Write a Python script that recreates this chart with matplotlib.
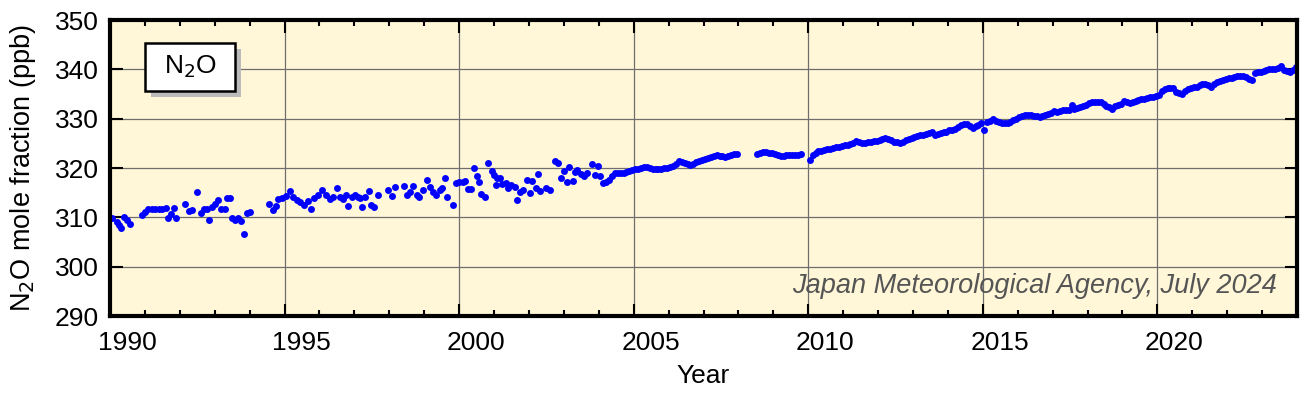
import matplotlib
matplotlib.use('Agg')
import matplotlib.pyplot as plt
import matplotlib.transforms as mtransforms
from matplotlib.patches import Rectangle
import numpy as np

# Flask samples 1990-2004 (decimal year, ppb)
t_early = [1990.07, 1990.19, 1990.26, 1990.31, 1990.41, 1990.48, 1990.57, 1990.91,
           1991.00, 1991.10, 1991.20, 1991.30, 1991.40, 1991.50, 1991.59, 1991.67,
           1991.76, 1991.82, 1991.90, 1992.16, 1992.26, 1992.35, 1992.50, 1992.60,
           1992.68, 1992.77, 1992.83, 1992.91, 1993.00, 1993.10, 1993.19, 1993.29,
           1993.35, 1993.44, 1993.49, 1993.58, 1993.68, 1993.75, 1993.83, 1993.92,
           1994.00, 1994.56, 1994.67, 1994.74, 1994.81, 1994.93, 1995.05, 1995.16,
           1995.25, 1995.35, 1995.44, 1995.56, 1995.66, 1995.76, 1995.83, 1995.97,
           1996.08, 1996.20, 1996.30, 1996.40, 1996.49, 1996.58, 1996.68, 1996.75,
           1996.83, 1996.92, 1997.01, 1997.10, 1997.17, 1997.23, 1997.30, 1997.42,
           1997.48, 1997.56, 1997.67, 1997.97, 1998.07, 1998.16, 1998.42, 1998.52,
           1998.60, 1998.69, 1998.78, 1998.86, 1998.97, 1999.08, 1999.16, 1999.25,
           1999.33, 1999.44, 1999.52, 1999.59, 1999.66, 1999.83, 1999.91, 2000.00,
           2000.10, 2000.18, 2000.24, 2000.35, 2000.42, 2000.50, 2000.58, 2000.64,
           2000.74, 2000.84, 2000.93, 2000.99, 2001.07, 2001.09, 2001.17, 2001.24,
           2001.34, 2001.40, 2001.50, 2001.60, 2001.67, 2001.74, 2001.84, 2001.93,
           2002.03, 2002.10, 2002.20, 2002.26, 2002.33, 2002.50, 2002.60, 2002.75,
           2002.84, 2002.91, 2002.99, 2003.08, 2003.15, 2003.25, 2003.31, 2003.39,
           2003.48, 2003.58, 2003.65, 2003.80, 2003.90, 2003.97, 2004.04]
v_early = [309.8, 309.1, 308.4, 307.8, 310.1, 309.5, 308.6, 310.5,
           311.1, 311.7, 311.8, 311.6, 311.8, 311.8, 312.0, 309.8,
           310.6, 312.0, 309.8, 312.8, 311.3, 311.4, 315.2, 310.8,
           311.8, 311.6, 309.5, 312.2, 312.8, 313.5, 311.8, 311.6,
           314.0, 314.0, 309.9, 309.5, 309.8, 309.3, 306.6, 310.9,
           311.1, 312.8, 311.4, 312.3, 313.7, 314.0, 314.4, 315.3,
           314.2, 313.5, 313.2, 312.6, 313.4, 311.6, 313.9, 314.6,
           315.5, 314.5, 313.8, 314.2, 316.0, 314.2, 313.8, 314.5,
           312.4, 314.2, 314.6, 314.2, 314.0, 312.1, 314.2, 315.3,
           312.5, 312.2, 314.5, 315.5, 314.3, 316.2, 316.4, 314.6,
           315.2, 316.4, 314.6, 314.2, 315.5, 317.6, 316.2, 315.2,
           314.6, 315.5, 316.0, 317.9, 314.2, 312.6, 316.9, 317.1,
           317.2, 317.4, 315.8, 315.8, 320.1, 318.3, 317.2, 314.7,
           314.2, 321.0, 319.4, 318.6, 316.6, 317.9, 317.9, 316.7,
           316.9, 315.9, 316.6, 316.1, 313.5, 315.2, 315.5, 317.6,
           315.0, 317.4, 315.9, 318.8, 315.4, 316.0, 315.5, 321.4,
           321.0, 318.0, 319.4, 317.1, 320.2, 317.4, 319.2, 319.6,
           318.7, 318.3, 318.9, 320.8, 318.6, 320.5, 318.3]

# Continuous monthly record, Feb 2004 - Dec 2007
start_a = (2004, 2)
v_a = [316.9, 317.1, 317.6, 318.4, 318.9, 319.1, 319.0, 319.1, 319.3, 319.4, 319.6,
       319.8, 319.9, 320.0, 320.2, 320.2, 320.1, 319.9, 319.9, 319.8, 319.9, 320.0, 320.1,
       320.2, 320.4, 320.8, 321.4, 321.2, 321.0, 320.9, 320.7, 320.9, 321.2, 321.5, 321.7,
       321.8, 322.0, 322.3, 322.5, 322.6, 322.4, 322.4, 322.3, 322.5, 322.7, 322.9, 322.9]

# Jul 2008 - Oct 2009
start_b = (2008, 7)
v_b = [322.8, 323.1, 323.3, 323.3, 323.1, 323.0,
       322.8, 322.6, 322.4, 322.5, 322.7, 322.6, 322.6, 322.7, 322.7, 322.8]

# Jan 2010 - Dec 2023
start_c = (2010, 1)
v_c = [321.7, 322.6, 323.0, 323.4, 323.5, 323.6, 323.8, 323.8, 324.0, 324.2, 324.3, 324.4,
       324.6, 324.7, 324.9, 325.1, 325.5, 325.2, 325.1, 325.1, 325.2, 325.3, 325.4, 325.5,
       325.7, 325.8, 326.0, 325.8, 325.6, 325.3, 325.2, 325.1, 325.3, 325.6, 325.9, 326.1,
       326.4, 326.5, 326.7, 326.8, 326.9, 327.1, 327.4, 326.8, 326.9, 327.1, 327.3, 327.4,
       327.7, 327.8, 327.9, 328.4, 328.7, 328.9, 328.9, 328.6, 328.2, 328.6, 328.8, 329.2,
       327.7, 329.4, 329.6, 329.9, 329.5, 329.3, 329.1, 329.1, 329.1, 329.4, 329.7, 330.0,
       330.3, 330.5, 330.7, 330.7, 330.7, 330.6, 330.5, 330.4, 330.6, 330.7, 331.0, 331.2,
       331.5, 331.4, 331.5, 331.7, 331.8, 331.8, 332.7, 332.0, 332.2, 332.4, 332.6, 332.8,
       333.2, 333.3, 333.5, 333.4, 333.3, 332.9, 332.6, 332.4, 332.0, 332.5, 332.7, 333.0,
       333.7, 333.4, 333.2, 333.5, 333.7, 333.9, 334.0, 334.1, 334.3, 334.4, 334.5, 334.7,
       334.8, 335.6, 336.0, 336.3, 336.3, 336.2, 335.5, 335.2, 335.1, 335.6, 336.1, 336.3,
       336.4, 336.5, 336.9, 337.1, 337.0, 336.8, 336.5, 337.0, 337.5, 337.7, 337.8, 338.0,
       338.2, 338.3, 338.5, 338.7, 338.7, 338.7, 338.4, 338.0, 337.8, 339.2, 339.4, 339.5,
       339.6, 339.8, 340.0, 340.0, 340.1, 340.2, 340.7, 339.8, 339.6, 339.5, 339.8, 340.4]

year_ticks = [1990, 1995, 2000, 2005, 2010, 2015, 2020]
ppb_ticks = [290, 300, 310, 320, 330, 340, 350]


def monthly_times(start, n):
    y, m = start
    return y + (m - 0.5 + np.arange(n)) / 12.0


plt.rcParams['font.family'] = ['Liberation Sans', 'DejaVu Sans']

fig = plt.figure(figsize=(13.13, 3.95), dpi=100)
ax = fig.add_axes([0.0838, 0.20, 0.904, 0.749])
ax.set_facecolor('#FFF7D7')

dot = dict(ls='none', marker='o', ms=5.0, color='#0000FF', mec='none', zorder=3)
ax.plot(t_early, v_early, **dot)
ax.plot(monthly_times(start_a, len(v_a)), v_a, **dot)
ax.plot(monthly_times(start_b, len(v_b)), v_b, **dot)
ax.plot(monthly_times(start_c, len(v_c)), v_c, **dot)

ax.set_xlim(1990, 2024)
ax.set_ylim(290, 350)
ax.set_xticks(year_ticks)
ax.set_xticks(np.arange(1990, 2025), minor=True)
ax.set_yticks(ppb_ticks)
ax.grid(True, which='major', color='#6E6E6E', lw=0.9, zorder=1)

ax.tick_params(which='both', direction='in', top=True, right=True,
               labelsize=19, width=1.5, color='black')
ax.tick_params(which='major', length=9)
ax.tick_params(which='minor', length=4.5)
ax.tick_params(axis='x', which='major', pad=11)
ax.tick_params(axis='y', which='major', pad=8)
for s in ax.spines.values():
    s.set_linewidth(3)
    s.set_zorder(4)

# year labels sit in the middle of the year
shift = mtransforms.ScaledTranslation(0.17, 0, fig.dpi_scale_trans)
for lab in ax.get_xticklabels():
    lab.set_transform(lab.get_transform() + shift)

ax.set_xlabel('Year', fontsize=19, labelpad=6)
ax.set_ylabel(r'N$_2$O mole fraction (ppb)', fontsize=19.5, labelpad=12)

# label box with shadow
ax.add_patch(Rectangle((0.0345, 0.740), 0.0758, 0.162, transform=ax.transAxes,
                       facecolor='#BBBBBB', edgecolor='none', zorder=5))
ax.add_patch(Rectangle((0.0295, 0.760), 0.0758, 0.162, transform=ax.transAxes,
                       facecolor='white', edgecolor='black', lw=1.8, zorder=6))
ax.text(0.0674, 0.841, r'N$_2$O', transform=ax.transAxes, fontsize=19,
        ha='center', va='center', zorder=7)

ax.text(0.983, 0.101, 'Japan Meteorological Agency, July 2024', transform=ax.transAxes,
        fontsize=19.5, style='italic', color='#555555', ha='right', va='center', zorder=5)

fig.savefig('out.png', dpi=100)
